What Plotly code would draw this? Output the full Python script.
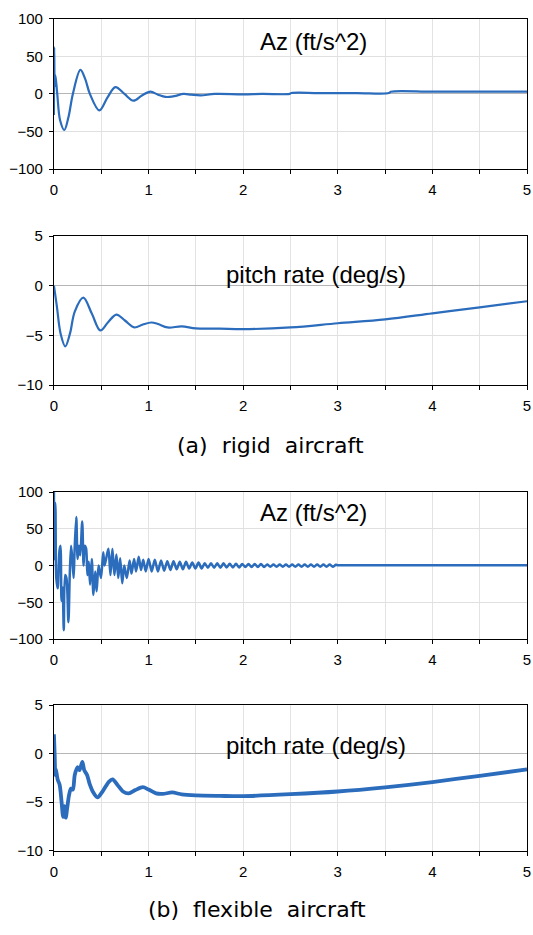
import plotly.graph_objects as go

# ---------------- data ----------------
# (a) rigid aircraft
rigid_az_t = [0.0, 0.003, 0.008, 0.015, 0.035, 0.065, 0.11, 0.155, 0.2, 0.28, 0.33, 0.38, 0.48,
              0.565, 0.65, 0.745, 0.84, 0.93, 1.02, 1.1, 1.18, 1.27, 1.37, 1.45, 1.55, 1.7,
              2.0, 2.2, 2.49, 2.51, 2.8, 3.2, 3.54, 3.56, 4.0, 4.5, 5.0]
rigid_az_v = [-28, 62, 10, 25, 0, -35, -48, -30, 0, 32, 20, 0, -22,
              -5, 9, 0, -9, -2, 3, -1, -4, -3, 0, -1, -2, 0,
              -0.5, 0, 0, 1.2, 1.2, 1.2, 1.2, 3, 3, 3, 3]

rigid_q_t = [0.0, 0.03, 0.07, 0.12, 0.17, 0.22, 0.31, 0.40, 0.49, 0.57, 0.66, 0.75, 0.85,
             0.94, 1.03, 1.1, 1.2, 1.35, 1.5, 1.75, 2.0, 2.5, 3.0, 3.5, 4.0, 4.5, 5.0]
rigid_q_v = [0.0, -2.0, -4.8, -6.1, -4.8, -2.6, -1.2, -2.8, -4.5, -3.7, -2.9, -3.5, -4.2,
             -3.9, -3.7, -3.85, -4.2, -4.1, -4.3, -4.32, -4.37, -4.2, -3.78, -3.38, -2.78, -2.18, -1.56]

# (b) flexible aircraft
flex_az_t = [0.000, 0.002, 0.008, 0.014, 0.025, 0.04, 0.058, 0.069, 0.08, 0.092, 0.104, 0.118,
             0.132, 0.153, 0.167, 0.181, 0.194, 0.208, 0.218, 0.236, 0.25, 0.264, 0.278, 0.299,
             0.313, 0.326, 0.34, 0.354, 0.368, 0.382, 0.40, 0.417, 0.437, 0.451, 0.472, 0.497,
             0.521, 0.535, 0.556, 0.576, 0.597, 0.618, 0.639, 0.66, 0.68, 0.70, 0.722, 0.743,
             0.77, 0.80, 0.82, 0.847, 0.868, 0.896, 0.92, 0.944, 0.97, 1.0,
             1.033, 1.066, 1.099, 1.132, 1.165, 1.198, 1.231, 1.264, 1.297, 1.33, 1.363, 1.396,
             1.429, 1.462, 1.495, 1.528, 1.561, 1.594, 1.627, 1.66, 1.693, 1.726, 1.759, 1.792,
             1.825, 1.858, 1.891, 1.924, 1.957, 1.99, 2.023, 2.056, 2.089, 2.122, 2.155, 2.188,
             2.221, 2.254, 2.287, 2.32, 2.353, 2.386, 2.419, 2.452, 2.485, 2.518, 2.551, 2.584,
             2.617, 2.65, 2.683, 2.716, 2.749, 2.782, 2.815, 2.848, 2.881, 2.914, 2.947, 2.98,
             3.0, 3.5, 4.0, 4.5, 5.0]
flex_az_v = [100, 9, 80, 85, -17, -31, 20, 27, -48, -30, -88, -13,
             -17, -77, -13, 27, 9, -17, 20, 66, 9, 27, 14, 60,
             0, 27, 23, -13, 5, -26, 9, -40, -8, -35, 0, -17,
             18, 0, 12, 23, -13, 23, -13, 15, -17, 10, -24, 0,
             -17, 7, -11, 9, -8, 12, -6, 8, -8, 9,
             -8, 8, -8, 7, -7, 6, -6, 6, -5, 5, -5, 5,
             -4, 4, -4, 4, -4, 3, -3, 3, -3, 3, -3, 3,
             -2.5, 2.5, -2.5, 2.5, -2.5, 2, -2, 2, -2, 2, -2, 2,
             -2, 1.5, -1.5, 1.5, -1.5, 1.5, -1.5, 1.5, -1.5, 1.5, -1.5, 1.5,
             -1.5, 1.5, -1.5, 1.5, -1.5, 1.5, -1.5, 1.5, -1.5, 1.5, -1.5, 1,
             0.5, 0.5, 0.5, 0.5, 0.5]

flex_q_t = [0.000, 0.008, 0.014, 0.02, 0.04, 0.06, 0.08, 0.097, 0.11, 0.125, 0.14, 0.16,
            0.18, 0.2, 0.22, 0.25, 0.27, 0.30, 0.32, 0.35, 0.38, 0.41, 0.46, 0.52, 0.58,
            0.62, 0.67, 0.73, 0.79, 0.86, 0.94, 1.0, 1.08, 1.15, 1.25, 1.35, 1.5, 1.75,
            2.0, 2.5, 3.0, 3.5, 4.0, 4.5, 5.0]
flex_q_v = [2.0, -0.2, -2.2, -1.6, -2.7, -3.2, -4.9, -6.5, -5.4, -6.6, -5.6, -4.25,
            -3.6, -3.7, -2.2, -1.4, -1.7, -0.85, -1.7, -2.2, -3.2, -3.9, -4.5, -3.8, -2.9,
            -2.65, -3.2, -3.9, -4.1, -3.75, -3.45, -3.7, -4.1, -4.15, -4.0, -4.2, -4.3, -4.35,
            -4.38, -4.18, -3.9, -3.47, -2.93, -2.28, -1.63]

x_ticks = [0, 1, 2, 3, 4, 5]
az_ticks = [-100, -50, 0, 50, 100]
q_ticks = [-10, -5, 0, 5]

# ---------------- figure ----------------
W, H = 533, 935
BLUE = "#2b6cbc"
FONT = "Liberation Sans, Arial, sans-serif"
CAP_FONT = "DejaVu Sans, sans-serif"

fig = go.Figure()
fig.add_trace(go.Scatter(x=rigid_az_t, y=rigid_az_v, mode="lines", xaxis="x", yaxis="y",
                         line=dict(color=BLUE, width=2.2, shape="spline", smoothing=1.0)))
fig.add_trace(go.Scatter(x=rigid_q_t, y=rigid_q_v, mode="lines", xaxis="x2", yaxis="y2",
                         line=dict(color=BLUE, width=2.2, shape="spline", smoothing=1.0)))
fig.add_trace(go.Scatter(x=flex_az_t, y=flex_az_v, mode="lines", xaxis="x3", yaxis="y3",
                         line=dict(color=BLUE, width=2.5, shape="spline", smoothing=0.8)))
fig.add_trace(go.Scatter(x=flex_q_t, y=flex_q_v, mode="lines", xaxis="x4", yaxis="y4",
                         line=dict(color=BLUE, width=3.8, shape="spline", smoothing=0.8)))

xdom = [50.7 / W, 531.0 / W]
ydoms = [(10, 163), (231.3, 383), (492, 641.7), (709, 857.3)]
ranges = [[-100, 100], [-10, 5], [-100, 100], [-10, 5]]
yticks = [az_ticks, q_ticks, az_ticks, q_ticks]

def xaxis_cfg(anchor):
    return dict(domain=xdom, range=[0, 5], anchor=anchor, tickvals=x_ticks,
                ticks="outside", ticklen=4, tickcolor="black", showline=True, linecolor="black",
                linewidth=1, mirror=True, showgrid=True, gridcolor="#e3e3e3", zeroline=False,
                tickfont=dict(family=FONT, size=15, color="black"), ticklabelstandoff=3,
                ticklabeloverflow="allow",
                minor=dict(dtick=0.5, tick0=0, ticks="outside", ticklen=4, tickcolor="black",
                           showgrid=True, gridcolor="#e3e3e3"))

def yaxis_cfg(i, anchor):
    top, bot = ydoms[i]
    return dict(domain=[1 - bot / H, 1 - top / H], range=ranges[i], anchor=anchor,
                tickvals=yticks[i], ticks="outside", ticklen=4, tickcolor="black",
                showline=True, linecolor="black", linewidth=1, mirror=True,
                showgrid=True, gridcolor="#e0e0e0", zeroline=True, zerolinecolor="#b5b5b5",
                zerolinewidth=1, tickfont=dict(family=FONT, size=15, color="black"),
                ticklabelstandoff=3)

layout = dict(width=W, height=H, margin=dict(l=0, r=0, t=0, b=0), showlegend=False,
              plot_bgcolor="white", paper_bgcolor="white")
names = ["", "2", "3", "4"]
for i, n in enumerate(names):
    layout["xaxis" + n] = xaxis_cfg("y" + n)
    layout["yaxis" + n] = yaxis_cfg(i, "x" + n)
fig.update_layout(**layout)

lab_font = dict(family=FONT, size=24, color="black")
cap_font = dict(family=CAP_FONT, size=22, color="black")
annotations = [
    dict(text="Az (ft/s^2)", x=2.74, y=70, xref="x", yref="y", showarrow=False, font=lab_font),
    dict(text="pitch rate (deg/s)", x=2.77, y=1.1, xref="x2", yref="y2", showarrow=False, font=lab_font),
    dict(text="Az (ft/s^2)", x=2.74, y=72, xref="x3", yref="y3", showarrow=False, font=lab_font),
    dict(text="pitch rate (deg/s)", x=2.77, y=0.8, xref="x4", yref="y4", showarrow=False, font=lab_font),
    dict(text="(a)  rigid  aircraft", x=270.5 / W, y=1 - 445 / H, xref="paper", yref="paper",
         xanchor="center", yanchor="middle", showarrow=False, font=cap_font),
    dict(text="(b)  flexible  aircraft", x=256.7 / W, y=1 - 917 / H, xref="paper", yref="paper",
         xanchor="center", yanchor="middle", showarrow=False, font=cap_font),
]
fig.update_layout(annotations=annotations)

fig.write_html("out.html")
